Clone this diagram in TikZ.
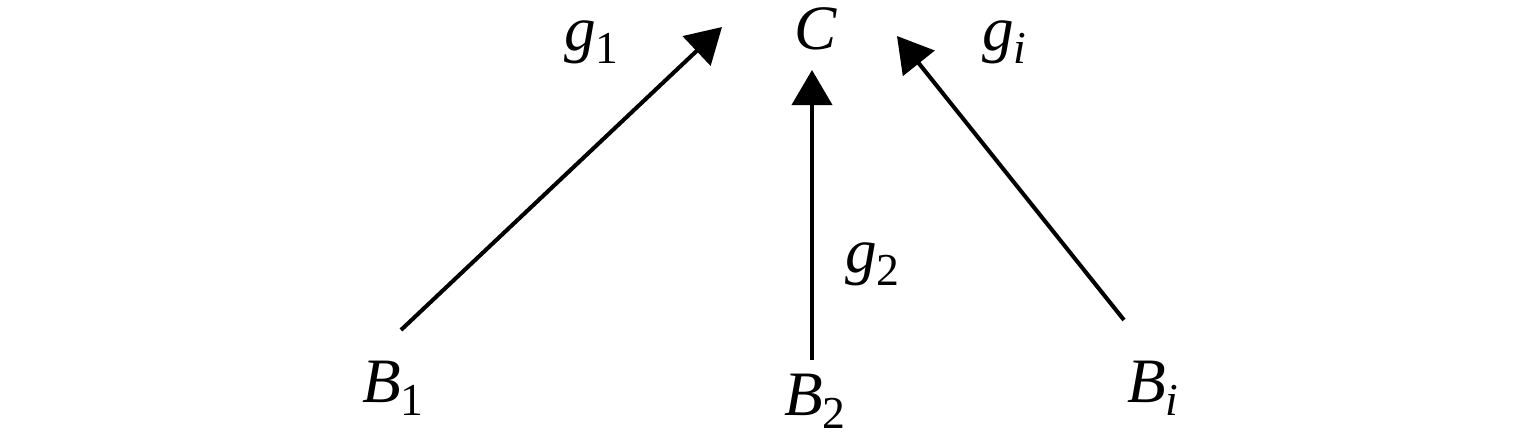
\documentclass[tikz,border=0pt]{standalone}
\usepackage{fontspec}
\setmainfont{Liberation Serif}[ItalicFont={Liberation Serif Italic}]
\usepackage{tikz}
\usetikzlibrary{arrows.meta}

\newcommand{\lowidx}[1]{\raisebox{-0.13cm}{\fontsize{13}{15}\selectfont #1}}

\begin{document}
\begin{tikzpicture}[->,>={Triangle[length=0.35cm,width=0.40cm]},line width=1.15pt,
    main node/.style={inner sep=0pt,font=\fontsize{18}{22}\selectfont\itshape}]
    \useasboundingbox (0,0) rectangle (15.35,4.35);

    \node[main node,anchor=base] (c) at (8.16,3.86) {C};

    \node[main node,anchor=base west] (g1) at (5.62,3.85) {g\lowidx{\upshape 1}};
    \node[main node,anchor=base west] (g2) at (8.43,1.63) {g\lowidx{\upshape 2}};
    \node[main node,anchor=base west] (gi) at (9.80,3.85) {g\lowidx{i}};

    \node[main node,anchor=base west] (b1) at (3.60,0.33) {B\lowidx{\upshape 1}};
    \node[main node,anchor=base west] (b2) at (7.82,0.20) {B\lowidx{\upshape 2}};
    \node[main node,anchor=base west] (bi) at (11.25,0.33) {B\lowidx{i}};

    \coordinate (s1) at (4.01,1.05);
    \coordinate (t1) at (7.22,4.08);
    \coordinate (s2) at (8.12,0.75);
    \coordinate (t2) at (8.12,3.65);
    \coordinate (s3) at (11.24,1.15);
    \coordinate (t3) at (8.97,3.99);

    \path (s1) edge (t1);
    \path (s2) edge (t2);
    \path (s3) edge (t3);
\end{tikzpicture}
\end{document}
